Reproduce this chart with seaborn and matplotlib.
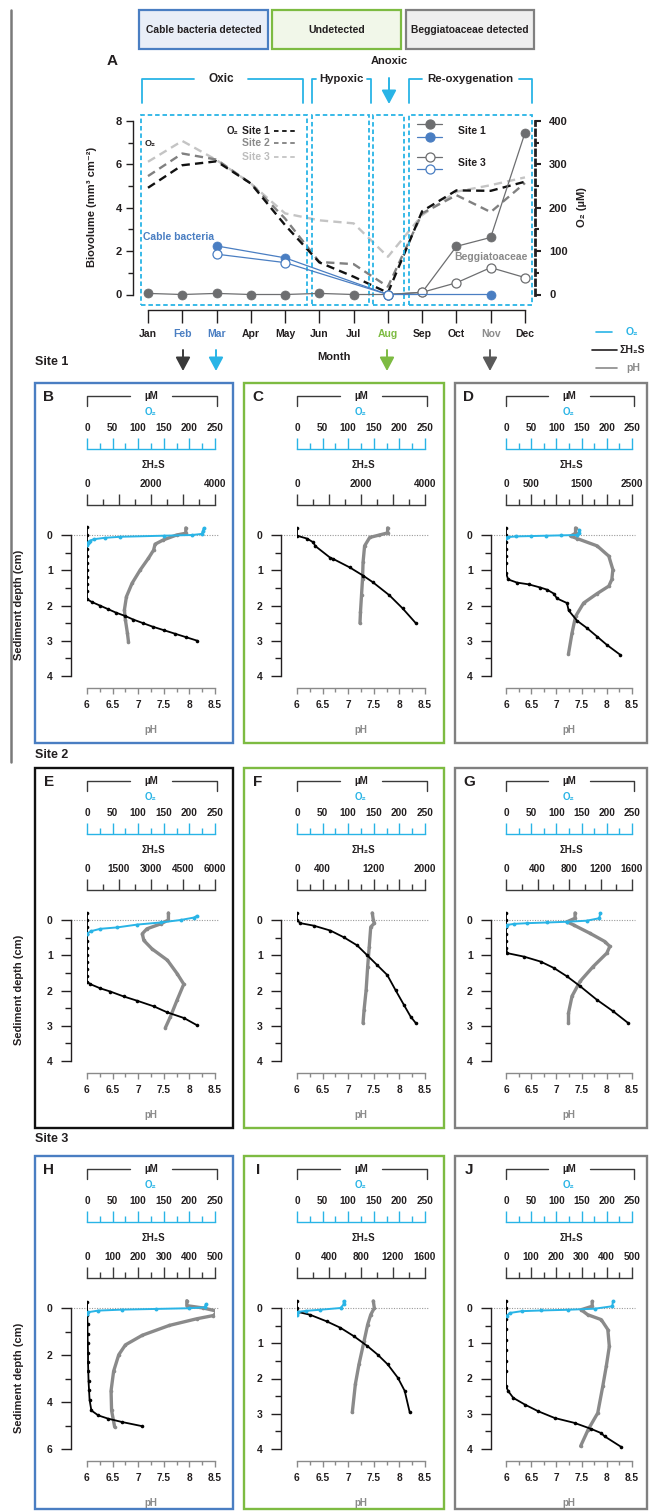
import numpy as np
import matplotlib
matplotlib.use("Agg")
import matplotlib.pyplot as plt
import seaborn as sns
from matplotlib.patches import Rectangle, FancyArrowPatch
from matplotlib.lines import Line2D
from matplotlib.ticker import FixedLocator, FixedFormatter, FuncFormatter

# ---------------- DATA ----------------
MONTHS = ["Jan", "Feb", "Mar", "Apr", "May", "Jun", "Jul", "Aug", "Sep", "Oct", "Nov", "Dec"]
MONTH_NUM = list(range(1, 13))
O2_SITE1 = [246, 298, 307, 256, 160, 74, 41, 4, 192, 240, 239, 260]
O2_SITE2 = [273, 325, 311, 256, 175, 75, 70, 18, 187, 229, 190, 257]
O2_SITE3 = [306, 354, 310, 256, 187, 171, 164, 87, 183, 237, 252, 270]
BEGG_SITE1 = [0.05, 0.0, 0.05, 0.0, 0.0, 0.05, 0.0, 0.0, 0.1, 2.22, 2.63, 7.45]
BEGG3_MONTHS = [8, 9, 10, 11, 12]
BEGG_SITE3 = [0.0, 0.1, 0.54, 1.24, 0.78]
CABLE1_MONTHS = [3, 5, 8, 11]
CABLE_SITE1 = [2.24, 1.69, 0.0, 0.0]
CABLE3_MONTHS = [3, 5, 8]
CABLE_SITE3 = [1.86, 1.47, 0.0]

# Panel B
B_ph_d = [-0.2, -0.05, 0.0, 0.14, 0.26, 0.43, 0.66, 0.99, 1.37, 1.75, 2.13, 2.41, 2.79, 3.03]
B_ph = [7.93, 7.93, 7.75, 7.49, 7.33, 7.30, 7.20, 7.04, 6.88, 6.77, 6.73, 6.75, 6.79, 6.81]
B_h2s_d = [-0.22, 0.0, 0.2, 0.4, 0.6, 0.8, 1.0, 1.2, 1.4, 1.6, 1.82, 1.9, 2.0, 2.1, 2.2, 2.3, 2.4, 2.5, 2.6, 2.7, 2.8, 2.9, 3.0]
B_h2s = [0, 0, 0, 0, 0, 0, 0, 0, 0, 0, 0, 150, 400, 650, 900, 1200, 1450, 1750, 2050, 2400, 2750, 3100, 3450]
B_o2_d = [-0.2, -0.1, -0.03, 0.0, 0.02, 0.05, 0.08, 0.12, 0.16, 0.19, 0.23, 0.28]
B_o2 = [228, 226, 224, 205, 150, 65, 35, 13, 6, 3, 1, 0]
# Panel C
C_ph_d = [-0.2, -0.06, 0.0, 0.07, 0.31, 0.78, 1.24, 1.71, 2.18, 2.5]
C_ph = [7.77, 7.77, 7.61, 7.42, 7.32, 7.29, 7.28, 7.26, 7.24, 7.23]
C_h2s_d = [-0.2, 0.02, 0.1, 0.21, 0.31, 0.64, 0.68, 0.92, 1.15, 1.34, 1.71, 2.08, 2.5]
C_h2s = [0, 0, 309, 515, 567, 1031, 1134, 1649, 2062, 2371, 2887, 3299, 3711]
# Panel D
D_ph_d = [-0.2, -0.05, 0.03, 0.1, 0.31, 0.6, 0.98, 1.26, 1.45, 1.66, 1.93, 2.31, 2.78, 3.37]
D_ph = [7.38, 7.38, 7.28, 7.41, 7.81, 8.04, 8.12, 8.10, 8.04, 7.81, 7.54, 7.38, 7.31, 7.24]
D_h2s_d = [-0.2, 0.0, 0.2, 0.4, 0.6, 0.8, 1.07, 1.26, 1.35, 1.40, 1.49, 1.55, 1.66, 1.8, 1.93, 2.14, 2.43, 2.64, 2.88, 3.12, 3.40]
D_h2s = [0, 0, 0, 0, 0, 0, 0, 42, 218, 450, 681, 813, 946, 1012, 1210, 1243, 1409, 1607, 1806, 2004, 2268]
D_o2_d = [-0.15, -0.05, 0.0, 0.01, 0.02, 0.03, 0.04, 0.06, 0.08]
D_o2 = [145, 145, 140, 110, 80, 50, 20, 3, 0]
# Panel E
E_ph_d = [-0.2, 0.0, 0.11, 0.25, 0.39, 0.58, 0.82, 1.14, 1.52, 1.82, 2.27, 2.74, 3.06]
E_ph = [7.59, 7.59, 7.44, 7.17, 7.08, 7.11, 7.27, 7.57, 7.76, 7.89, 7.76, 7.63, 7.53]
E_h2s_d = [-0.2, 0.0, 0.2, 0.4, 0.6, 0.8, 1.0, 1.2, 1.4, 1.6, 1.75, 1.82, 1.94, 2.03, 2.17, 2.29, 2.45, 2.62, 2.78, 2.99]
E_h2s = [0, 0, 0, 0, 0, 0, 0, 0, 0, 0, 0, 157, 627, 1097, 1723, 2350, 3133, 3760, 4543, 5170]
E_o2_d = [-0.12, -0.07, 0.0, 0.07, 0.13, 0.21, 0.25, 0.32, 0.39]
E_o2 = [215, 209, 183, 144, 98, 59, 26, 7, 0]
# Panel F
F_ph_d = [-0.2, 0.0, 0.09, 0.2, 0.77, 1.33, 1.99, 2.55, 2.92]
F_ph = [7.47, 7.49, 7.51, 7.44, 7.41, 7.38, 7.35, 7.31, 7.29]
F_h2s_d = [-0.2, 0.0, 0.09, 0.16, 0.3, 0.49, 0.72, 1.0, 1.28, 1.56, 1.99, 2.41, 2.74, 2.92]
F_h2s = [0, 0, 52, 261, 522, 731, 940, 1097, 1253, 1410, 1540, 1671, 1775, 1854]
# Panel G
G_ph_d = [-0.2, -0.05, 0.05, 0.14, 0.38, 0.61, 0.75, 0.94, 1.32, 1.74, 2.16, 2.64, 2.92]
G_ph = [7.37, 7.37, 7.21, 7.34, 7.67, 7.96, 8.06, 8.00, 7.73, 7.47, 7.31, 7.24, 7.24]
G_h2s_d = [-0.2, 0.0, 0.2, 0.4, 0.6, 0.8, 0.94, 1.04, 1.18, 1.36, 1.6, 1.88, 2.26, 2.59, 2.92]
G_h2s = [0, 0, 0, 0, 0, 0, 16, 230, 440, 607, 775, 942, 1152, 1361, 1550]
G_o2_d = [-0.19, -0.05, 0.02, 0.05, 0.07, 0.09, 0.11, 0.14, 0.17]
G_o2 = [187, 185, 160, 121, 82, 42, 16, 2, 0]
# Panel H
H_ph_d = [-0.31, -0.1, 0.0, 0.14, 0.32, 0.46, 0.74, 1.16, 1.57, 1.99, 2.69, 3.52, 4.36, 5.06]
H_ph = [7.95, 7.95, 8.27, 8.55, 8.47, 8.14, 7.61, 7.08, 6.75, 6.62, 6.52, 6.47, 6.48, 6.54]
H_h2s_d = [-0.25, 0.3, 0.7, 1.1, 1.5, 1.9, 2.3, 2.7, 3.1, 3.5, 3.9, 4.36, 4.57, 4.71, 4.85, 5.03]
H_h2s = [0, 1, 2, 2, 3, 4, 4, 5, 6, 8, 10, 17, 44, 83, 136, 216]
H_o2_d = [-0.17, -0.03, 0.01, 0.04, 0.07, 0.11, 0.18, 0.25]
H_o2 = [232, 230, 200, 134, 68, 22, 2, 0]
# Panel I
I_ph_d = [-0.2, 0.0, 0.19, 0.47, 0.94, 1.6, 2.16, 2.96]
I_ph = [7.49, 7.51, 7.44, 7.38, 7.31, 7.21, 7.14, 7.08]
I_h2s_d = [-0.2, 0.0, 0.11, 0.19, 0.38, 0.56, 0.8, 1.08, 1.32, 1.6, 1.98, 2.35, 2.96]
I_h2s = [0, 0, 8, 161, 372, 542, 711, 880, 1007, 1134, 1261, 1346, 1409]
I_o2_d = [-0.2, -0.1, 0.0, 0.05, 0.08, 0.11, 0.19]
I_o2 = [91, 91, 85, 45, 18, 2, 0]
# Panel J
J_ph_d = [-0.19, -0.05, 0.05, 0.19, 0.33, 0.61, 1.09, 1.65, 2.22, 2.98, 3.45, 3.92]
J_ph = [7.71, 7.71, 7.49, 7.62, 7.89, 8.02, 8.05, 7.99, 7.92, 7.82, 7.63, 7.48]
J_h2s_d = [-0.2, 0.0, 0.3, 0.6, 0.9, 1.2, 1.5, 1.8, 2.22, 2.36, 2.55, 2.74, 2.93, 3.12, 3.26, 3.43, 3.55, 3.64, 3.94]
J_h2s = [0, 0, 0, 0, 0, 0, 0, 0, 0, 9, 29, 75, 128, 193, 272, 338, 378, 391, 457]
J_o2_d = [-0.19, -0.05, 0.02, 0.05, 0.07, 0.09, 0.14, 0.22]
J_o2 = [212, 211, 176, 123, 70, 31, 8, 1]

# ---------------- STYLE ----------------
sns.set_theme(style="white")
plt.rcParams["font.family"] = ["Liberation Sans", "DejaVu Sans"]
plt.rcParams["font.weight"] = "bold"
plt.rcParams["axes.linewidth"] = 1.0

W, H = 649, 1511
PT = 0.72  # points per pixel at dpi 100
DARK = "#231f20"
CYAN = "#29b4e6"
BLUE = "#4a7ec2"
GREEN = "#7dbb42"
GREYBOX = "#808080"
PH_GREY = "#8a8a8a"
BEGG = "#6d6e70"

fig = plt.figure(figsize=(W / 100, H / 100), dpi=100)
fig.patch.set_facecolor("white")


def T(x, y, s, size=7, color=DARK, ha="center", va="center", **kw):
    fig.text(x / W, 1 - y / H, s, fontsize=size, color=color, ha=ha, va=va, fontweight="bold", **kw)


def L(xs, ys, color, lw=1.0, **kw):
    fig.add_artist(Line2D([x / W for x in xs], [1 - y / H for y in ys],
                          transform=fig.transFigure, color=color, lw=lw, **kw))


def R(x0, y0, x1, y1, ec, fc="none", lw=1.5):
    fig.add_artist(Rectangle((x0 / W, 1 - y1 / H), (x1 - x0) / W, (y1 - y0) / H,
                             transform=fig.transFigure, ec=ec, fc=fc, lw=lw))


def ARROW(x, y0, y1, color):
    fig.add_artist(FancyArrowPatch((x / W, 1 - y0 / H), (x / W, 1 - y1 / H),
                                   transform=fig.transFigure,
                                   arrowstyle="-|>,head_length=0.75,head_width=0.4",
                                   mutation_scale=11, lw=1.4, color=color,
                                   shrinkA=0, shrinkB=0))


# ---------------- HEADER ----------------
L([11, 11], [10, 762], "#7a7a7a", lw=1.8)
R(139, 10, 268, 49, BLUE, fc="#e9eef7", lw=1.6)
R(272, 10, 401, 49, GREEN, fc="#f1f7e9", lw=1.6)
R(406, 10, 534, 49, GREYBOX, fc="#efefef", lw=1.6)
T(203.5, 30, "Cable bacteria detected", size=7.4)
T(336.5, 30, "Undetected", size=7.6)
T(470, 30, "Beggiatoaceae detected", size=7.4)

T(112, 61, "A", size=11)
T(389, 61, "Anoxic", size=8)
# phase brackets
L([142, 142, 194], [103, 79, 79], CYAN, lw=1.3)
L([248, 303, 303], [79, 79, 103], CYAN, lw=1.3)
T(221, 79, "Oxic", size=8.5)
L([312, 312, 316], [103, 79, 79], CYAN, lw=1.3)
L([367, 371, 371], [79, 79, 103], CYAN, lw=1.3)
T(341.5, 79, "Hypoxic", size=8.2)
L([409, 409, 422], [103, 79, 79], CYAN, lw=1.3)
L([519, 532, 532], [79, 79, 103], CYAN, lw=1.3)
T(470.5, 79, "Re-oxygenation", size=8.2)
ARROW(389, 78, 104, CYAN)

# ---------------- PANEL A ----------------
PXM = 34.27   # px per month
PXY = 21.69   # px per biovolume unit
def mx(px):
    return 1 + (px - 148) / PXM
def by(py):
    return (294.5 - py) / PXY

axA = fig.add_axes([133 / W, 1 - 310 / H, (535 - 133) / W, (310 - 115) / H])
axO = axA.twinx()
axA.set_zorder(axO.get_zorder() + 1)
axA.patch.set_visible(False)

dash = (0, (3.5, 2.2))
sns.lineplot(x=MONTH_NUM, y=O2_SITE3, ax=axO, color="#c4c4c4", lw=1.7, linestyle=dash)
sns.lineplot(x=MONTH_NUM, y=O2_SITE2, ax=axO, color="#808080", lw=1.7, linestyle=dash)
sns.lineplot(x=MONTH_NUM, y=O2_SITE1, ax=axO, color="#111111", lw=1.7, linestyle=dash)

sns.lineplot(x=MONTH_NUM, y=BEGG_SITE1, ax=axA, color=BEGG, lw=0.9, marker="o",
             markersize=6.5, markerfacecolor=BEGG, markeredgecolor=BEGG, markeredgewidth=0.5)
sns.lineplot(x=BEGG3_MONTHS, y=BEGG_SITE3, ax=axA, color=BEGG, lw=0.9, marker="o",
             markersize=6.5, markerfacecolor="white", markeredgecolor=BEGG, markeredgewidth=0.9)
sns.lineplot(x=CABLE1_MONTHS, y=CABLE_SITE1, ax=axA, color=BLUE, lw=0.9, marker="o",
             markersize=6.5, markerfacecolor=BLUE, markeredgecolor=BLUE, markeredgewidth=0.5)
sns.lineplot(x=CABLE3_MONTHS, y=CABLE_SITE3, ax=axA, color=BLUE, lw=0.9, marker="o",
             markersize=6.5, markerfacecolor="white", markeredgecolor=BLUE, markeredgewidth=0.9)

ylo, yhi = by(310), by(115)
axA.set_xlim(mx(133), mx(535))
axA.set_ylim(ylo, yhi)
axO.set_ylim(ylo * 50, yhi * 50)
axA.set(xlabel="", ylabel="")
axO.set(xlabel="", ylabel="")

for s in ["top", "right"]:
    axA.spines[s].set_visible(False)
axA.spines["left"].set_bounds(0, 8)
axA.spines["bottom"].set_bounds(1, 12)
axA.spines["left"].set_color(DARK)
axA.spines["bottom"].set_color(DARK)
axA.yaxis.set_major_locator(FixedLocator([0, 2, 4, 6, 8]))
axA.yaxis.set_minor_locator(FixedLocator([1, 3, 5, 7]))
axA.tick_params(axis="y", which="major", length=7 * PT, width=1, direction="out",
                pad=3, labelsize=8, colors=DARK, left=True)
axA.tick_params(axis="y", which="minor", length=5 * PT, width=1, direction="out", left=True, color=DARK)
axA.xaxis.set_major_locator(FixedLocator(MONTH_NUM))
axA.xaxis.set_major_formatter(FixedFormatter(MONTHS))
axA.xaxis.set_minor_locator(FixedLocator([]))
axA.tick_params(axis="x", which="major", length=13 * PT, width=1, direction="out",
                pad=4, labelsize=7.5, colors=DARK, bottom=True)
month_colors = {"Feb": BLUE, "Mar": BLUE, "Aug": GREEN, "Nov": "#8c8c8c"}
for lab in axA.get_xticklabels():
    lab.set_color(month_colors.get(lab.get_text(), DARK))
    lab.set_fontweight("bold")
for lab in axA.get_yticklabels():
    lab.set_fontweight("bold")

for s in ["top", "left", "bottom"]:
    axO.spines[s].set_visible(False)
axO.spines["right"].set_bounds(0, 400)
axO.spines["right"].set_linestyle((0, (2.0, 1.6)))
axO.spines["right"].set_linewidth(2.0)
axO.spines["right"].set_color(DARK)
axO.yaxis.set_major_locator(FixedLocator([0, 100, 200, 300, 400]))
axO.yaxis.set_minor_locator(FixedLocator([50, 150, 250, 350]))
axO.tick_params(axis="y", which="major", length=6 * PT, width=1.5, direction="out",
                pad=8 * PT, labelsize=8, colors=DARK, right=True)
axO.tick_params(axis="y", which="minor", length=4 * PT, width=1.5, direction="out", right=True, color=DARK)
for lab in axO.get_yticklabels():
    lab.set_fontweight("bold")

# cyan dashed phase boxes
for x0p, x1p in [(141, 307), (312, 369), (373, 404), (409, 532)]:
    axA.add_patch(Rectangle((mx(x0p), by(305)), mx(x1p) - mx(x0p), by(115) - by(305),
                            fill=False, ec=CYAN, lw=1.3, ls=(0, (2.5, 1.6)), clip_on=False, zorder=0))

T(92, 207, "Biovolume (mm³ cm⁻²)", size=8, rotation=90)
T(582, 207, "O₂ (µM)", size=8, rotation=90)
T(334, 357, "Month", size=8)
T(145, 143, "O₂", size=6.5, ha="left")
T(238, 131, "O₂", size=7, ha="right")
T(242, 131, "Site 1", size=7.5, ha="left")
T(242, 143, "Site 2", size=7.5, ha="left", color="#8a8a8a")
T(242, 157, "Site 3", size=7.5, ha="left", color="#bdbdbd")
L([274, 297], [131, 131], "#111111", lw=1.3, linestyle=(0, (2.5, 2)))
L([274, 297], [143, 143], "#808080", lw=1.3, linestyle=(0, (2.5, 2)))
L([274, 297], [157, 157], "#c4c4c4", lw=1.3, linestyle=(0, (2.5, 2)))
for yy, col, fc in [(124, BEGG, BEGG), (137, BLUE, BLUE), (157, BEGG, "white"), (169, BLUE, "white")]:
    fig.add_artist(Line2D([417 / W, 429.5 / W, 442 / W], [1 - yy / H] * 3, transform=fig.transFigure,
                          color=col, lw=0.9, marker="o", markersize=6.5, markevery=[1],
                          markerfacecolor=fc, markeredgecolor=col, markeredgewidth=0.9))
T(458, 131, "Site 1", size=7.5, ha="left")
T(458, 163, "Site 3", size=7.5, ha="left")
T(179, 237, "Cable bacteria", size=7.5, color=BLUE)
T(491, 257, "Beggiatoaceae", size=7.5, color="#8a8a8a")

# arrows to panels
ARROW(183, 350, 371, "#3a3a3a")
ARROW(216, 350, 371, CYAN)
ARROW(387, 350, 371, GREEN)
ARROW(490, 350, 371, "#5a5a5a")

# right legend
L([596, 612], [332, 332], CYAN, lw=1.2)
L([592, 617], [350, 350], DARK, lw=1.2)
L([596, 617], [368, 368], PH_GREY, lw=1.2)
T(626, 332, "O₂", size=7.5, color=CYAN, ha="left")
T(619, 350, "ΣH₂S", size=7.5, ha="left")
T(626, 368, "pH", size=7.5, color=PH_GREY, ha="left")

T(35, 362, "Site 1", size=9, ha="left")
T(35, 755, "Site 2", size=9, ha="left")
T(35, 1139, "Site 3", size=9, ha="left")

# ---------------- PROFILE PANELS ----------------
COLS = {0: dict(bx0=35, bx1=233, sx=71, dx0=87, dx1=215),
        1: dict(bx0=244, bx1=444, sx=281, dx0=297, dx1=425),
        2: dict(bx0=455, bx1=647, sx=491, dx0=506, dx1=632)}
ROW_TOPS = [383, 768, 1156]


def clean(a):
    a.set(xlabel="", ylabel="")


def panel(letter, col, row, edge, dmax, dstep, h2s_max, h2s_step, h2s_labels,
          ph_d, ph, h2s_d, h2s, o2_d=None, o2=None):
    c = COLS[col]
    top = ROW_TOPS[row]
    dx0, dx1, sx = c["dx0"], c["dx1"], c["sx"]
    bottom = min(top + 360, 1509)
    R(c["bx0"], top, c["bx1"], bottom, edge, lw=1.7)
    T(c["bx0"] + 14, top + 14, letter, size=11)
    xm = (dx0 + dx1) / 2
    L([dx0, dx0, xm - 21], [top + 23, top + 13, top + 13], "#3a3a3a", lw=1)
    L([xm + 21, dx1 + 2, dx1 + 2], [top + 13, top + 13, top + 23], "#3a3a3a", lw=1)
    T(xm, top + 13, "µM", size=7)
    T(xm, top + 29, "O₂", size=7, color=CYAN)
    T(xm + 2, top + 82, "ΣH₂S", size=7)
    T(xm, top + 347, "pH", size=7, color=PH_GREY)
    if col == 0:
        T(19, top + 222, "Sediment depth (cm)", size=8, rotation=90)

    y0, ym, yt = top + 152, top + 293, top + 122
    pxpu = (ym - y0) / dmax
    dtop = -(y0 - yt) / pxpu
    ax = fig.add_axes([dx0 / W, 1 - ym / H, (dx1 - dx0) / W, (ym - yt) / H])
    ax.patch.set_alpha(0)
    sns.lineplot(x=ph, y=ph_d, sort=False, estimator=None, ax=ax, color=PH_GREY, lw=2.4,
                 marker="o", markersize=2.6, markeredgewidth=0, markerfacecolor=PH_GREY)
    ax.set_xlim(6, 8.5)
    ax.set_ylim(dmax, dtop)
    clean(ax)
    ax.axhline(0, xmin=-(dx0 - sx) / (dx1 - dx0), xmax=1.02, clip_on=False,
               ls=(0, (1, 1.3)), color="#9a9a9a", lw=0.8, zorder=0)
    for s in ["top", "right"]:
        ax.spines[s].set_visible(False)
    ax.spines["left"].set_position(("outward", (dx0 - sx) * PT))
    ax.spines["left"].set_bounds(0, dmax)
    ax.spines["left"].set_color(DARK)
    ax.spines["bottom"].set_position(("outward", 12 * PT))
    ax.spines["bottom"].set_bounds(6, 8.5)
    ax.spines["bottom"].set_color(PH_GREY)
    ax.yaxis.set_major_locator(FixedLocator(np.arange(0, dmax + 0.01, dstep)))
    ax.yaxis.set_minor_locator(FixedLocator(np.arange(dstep / 2, dmax, dstep)))
    ax.yaxis.set_major_formatter(FuncFormatter(lambda v, p: f"{v:g}"))
    ax.tick_params(axis="y", which="major", direction="out", length=10 * PT, width=1,
                   color=DARK, labelcolor=DARK, pad=6, labelsize=7.5, left=True)
    ax.tick_params(axis="y", which="minor", direction="out", length=6 * PT, width=1,
                   color=DARK, left=True)
    ax.xaxis.set_major_locator(FixedLocator(np.arange(6, 8.51, 0.5)))
    ax.xaxis.set_minor_locator(FixedLocator(np.arange(6.25, 8.5, 0.5)))
    ax.xaxis.set_major_formatter(FuncFormatter(lambda v, p: f"{v:g}"))
    ax.tick_params(axis="x", which="major", direction="out", length=6 * PT, width=1,
                   color=PH_GREY, labelcolor=DARK, pad=4.5, labelsize=7.3, bottom=True)
    ax.tick_params(axis="x", which="minor", direction="out", length=3.5 * PT, width=1,
                   color=PH_GREY, bottom=True)

    # H2S axis
    axh = ax.twiny()
    sns.lineplot(x=h2s, y=h2s_d, sort=False, estimator=None, ax=axh, color="black", lw=1.3,
                 marker="o", markersize=2.6, markeredgewidth=0, markerfacecolor="black")
    axh.set_xlim(0, h2s_max)
    axh.set_ylim(dmax, dtop)
    clean(axh)
    for s in ["left", "right", "bottom"]:
        axh.spines[s].set_visible(False)
    axh.spines["top"].set_color("#3a3a3a")
    majors = np.arange(0, h2s_max + 1, h2s_step)
    axh.xaxis.set_major_locator(FixedLocator(majors))
    axh.xaxis.set_minor_locator(FixedLocator(np.arange(h2s_step / 2, h2s_max, h2s_step)))
    axh.xaxis.set_major_formatter(FixedFormatter(
        [str(int(m)) if int(m) in h2s_labels else "" for m in majors]))
    axh.tick_params(axis="x", which="major", direction="out", length=11 * PT, width=1,
                    color="#3a3a3a", labelcolor=DARK, pad=3.5, labelsize=7.2, top=True)
    axh.tick_params(axis="x", which="minor", direction="out", length=6 * PT, width=1,
                    color="#3a3a3a", top=True)

    # O2 axis
    axo = ax.twiny()
    if o2 is not None:
        sns.lineplot(x=o2, y=o2_d, sort=False, estimator=None, ax=axo, color=CYAN, lw=1.4,
                     marker="o", markersize=2.8, markeredgewidth=0, markerfacecolor=CYAN)
    axo.set_xlim(0, 250)
    axo.set_ylim(dmax, dtop)
    clean(axo)
    for s in ["left", "right", "bottom"]:
        axo.spines[s].set_visible(False)
    axo.spines["top"].set_position(("outward", (yt - (top + 66)) * PT))
    axo.spines["top"].set_color(CYAN)
    axo.xaxis.set_major_locator(FixedLocator(np.arange(0, 251, 50)))
    axo.xaxis.set_minor_locator(FixedLocator(np.arange(25, 250, 50)))
    axo.xaxis.set_major_formatter(FuncFormatter(lambda v, p: f"{v:g}"))
    axo.tick_params(axis="x", which="major", direction="out", length=11 * PT, width=1,
                    color=CYAN, labelcolor=DARK, pad=3.5, labelsize=7.2, top=True)
    axo.tick_params(axis="x", which="minor", direction="out", length=6 * PT, width=1,
                    color=CYAN, top=True)
    for a in (ax, axh, axo):
        for lab in a.get_xticklabels() + a.get_yticklabels():
            lab.set_fontweight("bold")


panel("B", 0, 0, BLUE, 4, 1, 4000, 1000, [0, 2000, 4000], B_ph_d, B_ph, B_h2s_d, B_h2s, B_o2_d, B_o2)
panel("C", 1, 0, GREEN, 4, 1, 4000, 1000, [0, 2000, 4000], C_ph_d, C_ph, C_h2s_d, C_h2s)
panel("D", 2, 0, GREYBOX, 4, 1, 2500, 500, [0, 500, 1500, 2500], D_ph_d, D_ph, D_h2s_d, D_h2s, D_o2_d, D_o2)
panel("E", 0, 1, "#111111", 4, 1, 6000, 1500, [0, 1500, 3000, 4500, 6000], E_ph_d, E_ph, E_h2s_d, E_h2s, E_o2_d, E_o2)
panel("F", 1, 1, GREEN, 4, 1, 2000, 400, [0, 400, 1200, 2000], F_ph_d, F_ph, F_h2s_d, F_h2s)
panel("G", 2, 1, GREYBOX, 4, 1, 1600, 400, [0, 400, 800, 1200, 1600], G_ph_d, G_ph, G_h2s_d, G_h2s, G_o2_d, G_o2)
panel("H", 0, 2, BLUE, 6, 2, 500, 100, [0, 100, 200, 300, 400, 500], H_ph_d, H_ph, H_h2s_d, H_h2s, H_o2_d, H_o2)
panel("I", 1, 2, GREEN, 4, 1, 1600, 400, [0, 400, 800, 1200, 1600], I_ph_d, I_ph, I_h2s_d, I_h2s, I_o2_d, I_o2)
panel("J", 2, 2, GREYBOX, 4, 1, 500, 100, [0, 100, 200, 300, 400, 500], J_ph_d, J_ph, J_h2s_d, J_h2s, J_o2_d, J_o2)

fig.savefig("out.png", dpi=100, facecolor="white")
